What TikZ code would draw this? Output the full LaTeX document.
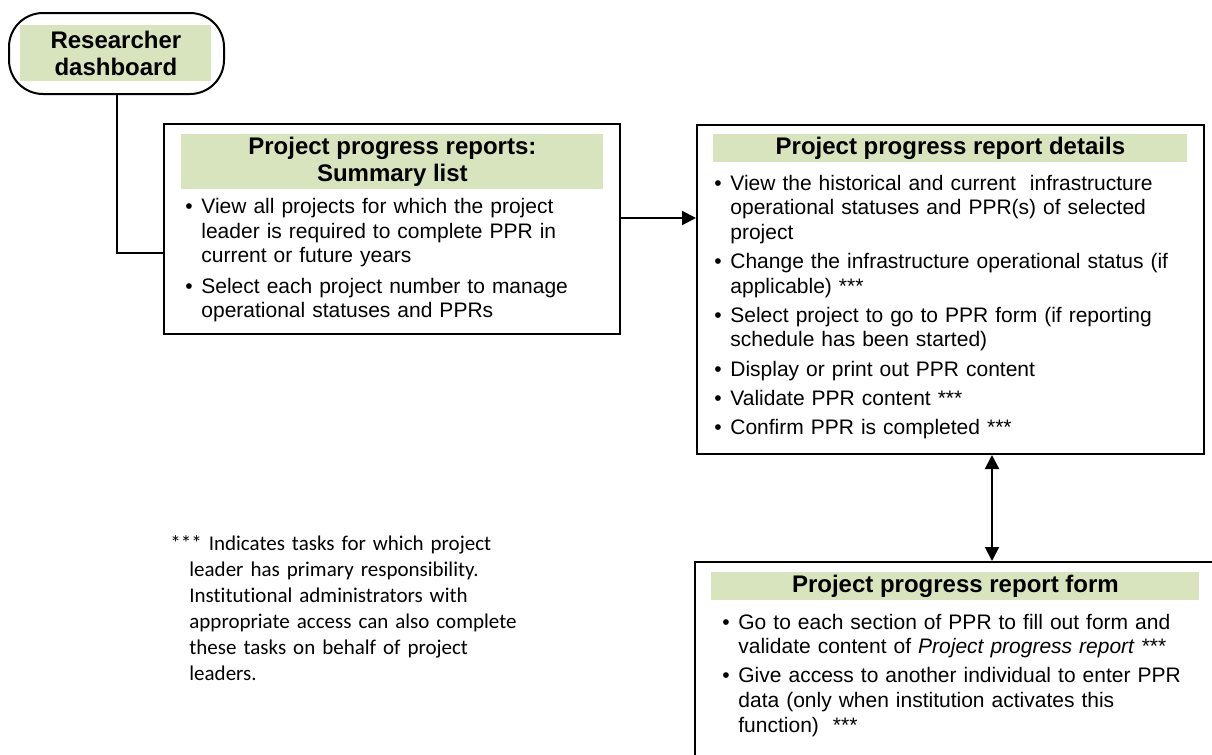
\documentclass[tikz,border=0pt]{standalone}
\usepackage{fontspec}
\setmainfont{Liberation Sans}
\newfontfamily\notefont[Ligatures=NoCommon]{Carlito}
\usetikzlibrary{arrows.meta}
\definecolor{hdrgreen}{HTML}{D7E4BD}
\newcommand{\bitem}[1]{\par\hangindent=8pt\hangafter=1\noindent\makebox[8pt][l]{\textbullet}#1\par}

\begin{document}
\begin{tikzpicture}[x=0.5pt,y=-0.5pt,
                box/.style={draw, line width=1pt, inner sep=0pt, anchor=north west},
                hdr/.style={fill=hdrgreen, inner sep=0pt, anchor=north west, align=center,
                            font=\bfseries\fontsize{12}{13.5}\selectfont},
                items/.style={inner sep=0pt, anchor=north west, align=left,
                              font=\fontsize{10.5}{12.3}\selectfont,
                              execute at begin node={\setlength{\parskip}{2.3pt}}},
                link/.style={line width=1pt},
                arr/.style={line width=1pt, -{Triangle[length=7pt,width=7pt]}},
                arrs/.style={line width=1pt, {Triangle[length=7pt,width=7pt]}-{Triangle[length=7pt,width=7pt]}}]

                \useasboundingbox (0,0) rectangle (1212,755);
                \clip (0,0) rectangle (1212,755);

                \node[box, rounded corners=17pt, minimum width=107.5pt, minimum height=40.5pt] (dash) at (8,12) {};
                \node[hdr, minimum width=95.5pt, minimum height=28pt] (dashhdr) at (20,25) {Researcher\\dashboard};

                \node[box, minimum width=228pt, minimum height=105pt] (summary) at (163,123) {};
                \node[hdr, minimum width=211pt, minimum height=27.5pt] (summaryhdr) at (181,134) {Project progress reports:\\Summary list};
                \node[items, text width=208pt, execute at begin node={\setlength{\parskip}{3pt}}] (summarylist) at (185,182.4) {%
                    \bitem{View all projects for which the project\newline leader is required to complete PPR in\newline current or future years}%
                    \bitem{Select each project number to manage\newline operational statuses and PPRs}};

                \node[box, minimum width=253.5pt, minimum height=164.5pt] (details) at (696,124) {};
                \node[hdr, minimum width=237pt, minimum height=14pt] (detailshdr) at (713,134) {Project progress report details};
                \node[items, text width=236pt] (detailslist) at (714,160.4) {%
                    \bitem{View the historical and current~ infrastructure\newline operational statuses and PPR(s) of selected\newline project}%
                    \bitem{Change the infrastructure operational status (if\newline applicable) ***}%
                    \bitem{Select project to go to PPR form (if reporting\newline schedule has been started)}%
                    \bitem{Display or print out PPR content}%
                    \bitem{Validate PPR content ***}%
                    \bitem{Confirm PPR is completed ***}};

                \node[box, minimum width=262pt, minimum height=110pt] (form) at (694,561) {};
                \node[hdr, minimum width=244pt, minimum height=14pt] (formhdr) at (711,572) {Project progress report form};
                \node[items, text width=236pt] (formlist) at (722,599.4) {%
                    \bitem{Go to each section of PPR to fill out form and\newline validate content of \textit{Project progress report} ***}%
                    \bitem{Give access to another individual to enter PPR\newline data (only when institution activates this\newline function)~ ***}};

                \node[inner sep=0pt, anchor=north west, align=left, text width=200pt,
                      font=\notefont\fontsize{10.5}{13}\selectfont] (note) at (170,535.5) {%
                    \hangindent=9.5pt\hangafter=1 *** Indicates tasks for which project\newline leader has primary responsibility.\newline Institutional administrators with\newline appropriate access can also complete\newline these tasks on behalf of project\newline leaders.\par};

                \coordinate (hstart) at ([yshift=5.5pt]summary.east);
                \coordinate (vstart) at ([xshift=20.75pt]details.south);

                \draw[link] (dash.south) |- ([yshift=-12pt]summary.west);
                \draw[arr] (hstart) -- (hstart -| details.west);
                \draw[arrs] (vstart) -- (vstart |- form.north);
\end{tikzpicture}
\end{document}
